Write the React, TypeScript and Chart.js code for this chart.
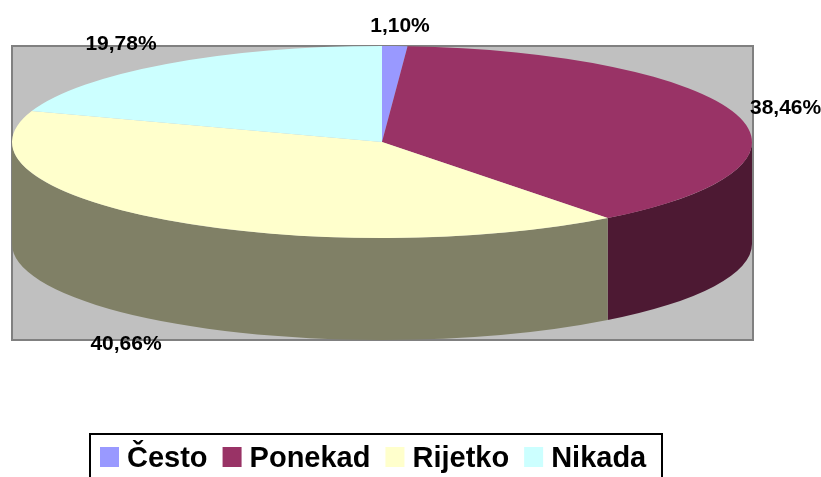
import React, { useEffect, useRef } from "react";
import { Chart, registerables } from "chart.js";

Chart.register(...registerables);

const categories = ["Često", "Ponekad", "Rijetko", "Nikada"];
const shares = [1.1, 38.46, 40.66, 19.78];
const topColors = ["#9999FF", "#993366", "#FFFFCC", "#CCFFFF"];
const sideColors = ["#4D4D80", "#4D1933", "#808066", "#668080"];

const PLOT = { left: 12, top: 46, right: 753, bottom: 340 };
const PIE = { cx: 382, cy: 142, rx: 370, ry: 96, depth: 102 };
const LABEL_FONT = 'bold 21px "Liberation Sans", Arial, sans-serif';
const LEGEND_FONT = 'bold 29px "Liberation Sans", Arial, sans-serif';
// text anchor per slice: [x, y, align]
const labelAnchors: [number, number, CanvasTextAlign][] = [
  [400, 26, "center"],
  [750, 108, "left"],
  [126, 344, "center"],
  [121, 44, "center"],
];

const pie3d = {
  id: "pie3d",
  beforeDatasetsDraw(chart: any) {
    const { ctx } = chart;
    const arcs = chart.getDatasetMeta(0).data;
    ctx.save();
    ctx.fillStyle = "#C0C0C0";
    ctx.fillRect(PLOT.left, PLOT.top, PLOT.right - PLOT.left, PLOT.bottom - PLOT.top);
    ctx.strokeStyle = "#808080";
    ctx.lineWidth = 2;
    ctx.strokeRect(PLOT.left, PLOT.top, PLOT.right - PLOT.left, PLOT.bottom - PLOT.top);
    arcs.forEach((arc: any, i: number) => {
      const a = Math.max(arc.startAngle, 0);
      const b = Math.min(arc.endAngle, Math.PI);
      if (b <= a) return;
      ctx.beginPath();
      ctx.ellipse(PIE.cx, PIE.cy, PIE.rx, PIE.ry, 0, a, b);
      ctx.ellipse(PIE.cx, PIE.cy + PIE.depth, PIE.rx, PIE.ry, 0, b, a, true);
      ctx.closePath();
      ctx.fillStyle = sideColors[i];
      ctx.fill();
    });
    ctx.restore();
    const first = arcs[0];
    const r = first.outerRadius;
    ctx.save();
    ctx.translate(PIE.cx, PIE.cy);
    ctx.scale(PIE.rx / r, PIE.ry / r);
    ctx.translate(-first.x, -first.y);
  },
  afterDatasetsDraw(chart: any) {
    const { ctx } = chart;
    ctx.restore();
    ctx.save();
    ctx.fillStyle = "#000";
    ctx.textBaseline = "middle";
    ctx.font = LABEL_FONT;
    shares.forEach((v, i) => {
      const [x, y, align] = labelAnchors[i];
      ctx.textAlign = align;
      ctx.fillText(v.toFixed(2).replace(".", ",") + "%", x, y);
    });
    ctx.strokeStyle = "#000";
    ctx.lineWidth = 2;
    ctx.strokeRect(90, 434, 572, 60);
    ctx.font = LEGEND_FONT;
    ctx.textAlign = "left";
    ctx.textBaseline = "alphabetic";
    let x = 100;
    categories.forEach((name, i) => {
      ctx.fillStyle = topColors[i];
      ctx.fillRect(x, 447, 19, 20);
      ctx.fillStyle = "#000";
      ctx.fillText(name, x + 27, 467);
      x += 27 + ctx.measureText(name).width + 15;
    });
    ctx.restore();
  },
};

export default function App() {
  const ref = useRef<HTMLCanvasElement>(null);
  useEffect(() => {
    document.body.style.margin = "0";
    const chart = new Chart(ref.current!, {
      type: "pie",
      data: {
        labels: categories,
        datasets: [{ data: shares, backgroundColor: topColors, borderWidth: 0, clip: false } as any],
      },
      options: {
        responsive: false,
        animation: false,
        plugins: { legend: { display: false }, tooltip: { enabled: false } },
      },
      plugins: [pie3d],
    });
    return () => chart.destroy();
  }, []);
  return <canvas ref={ref} width={821} height={477} style={{ display: "block" }} />;
}
